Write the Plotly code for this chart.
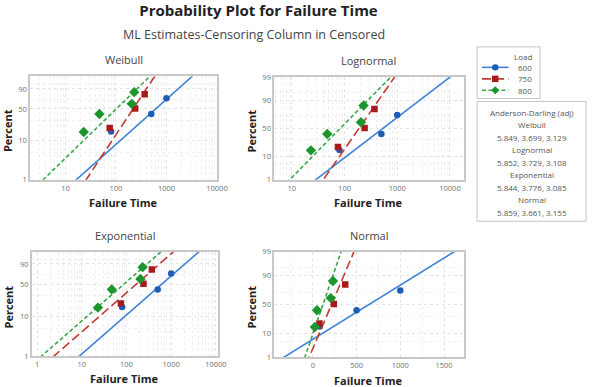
import numpy as np
import plotly.graph_objects as go
from statistics import NormalDist

# ---------------- data ----------------
loads = ["600", "750", "800"]
time_600 = [80, 500, 1000]
pct_600 = [16.5, 40, 73]
time_750 = [75, 240, 370]
pct_750 = [20, 51, 81]
time_800 = [23, 47, 205, 230]
pct_800 = [16, 40, 61, 85]

# ML fit parameters per load (600, 750, 800)
weibull_shape = [1.17, 1.98, 1.27]
weibull_scale = [835, 262, 135]
lognormal_loc = [6.279, 5.234, 4.412]
lognormal_scale = [1.261, 0.67, 0.95]
expo_mean = [885, 239, 126]
normal_mean = [643, 214, 116]
normal_sd = [418, 110, 89]

ad_labels = ["Weibull", "Lognormal", "Exponential", "Normal"]
ad_values = ["5.849, 3.699, 3.129", "5.852, 3.729, 3.108",
             "5.844, 3.776, 3.085", "5.859, 3.661, 3.155"]

pct_ticks_wb = [1, 10, 50, 90]
pct_ticks_n = [1, 10, 50, 90, 99]
pct_minor = [5, 30, 70, 95]
log_ticks_a = [10, 100, 1000, 10000]
log_ticks_b = [1, 10, 100, 1000, 10000]
lin_ticks = [0, 500, 1000, 1500]
lin_minor = [-250, 250, 750, 1250]

# ---------------- helpers ----------------
ND = NormalDist()
W, H = 601, 387
FONT = "Open Sans"


def wb(p):
    p = np.asarray(p, dtype=float) / 100.0
    return np.log(-np.log(1 - p))


def nz(p):
    return np.array([ND.inv_cdf(v / 100.0) for v in np.atleast_1d(p)])


def px_x(v):
    return v / W


def px_y(v):
    return 1 - v / H


times = [time_600, time_750, time_800]
pcts = [pct_600, pct_750, pct_800]
mk_colors = ["#1f5cb8", "#a61c1c", "#1b952c"]
ln_colors = ["#3f82d6", "#c23a32", "#3aa847"]
dashes = ["solid", "9px,4px", "4px,2.5px"]
symbols = ["circle", "square", "diamond"]
msizes = [6.5, 6.5, 8]

pgrid = np.linspace(0.01, 99.99, 400)

fig = go.Figure()

panels = ["Weibull", "Lognormal", "Exponential", "Normal"]
axis_ids = [("x", "y"), ("x2", "y2"), ("x3", "y3"), ("x4", "y4")]

for pi, pname in enumerate(panels):
    xa, ya = axis_ids[pi]
    for k in range(3):
        if pname == "Weibull":
            lx = weibull_scale[k] * (-np.log(1 - pgrid / 100)) ** (1 / weibull_shape[k])
            ly = wb(pgrid)
            py = wb(pcts[k])
        elif pname == "Lognormal":
            lx = np.exp(lognormal_loc[k] + lognormal_scale[k] * nz(pgrid))
            ly = nz(pgrid)
            py = nz(pcts[k])
        elif pname == "Exponential":
            lx = expo_mean[k] * (-np.log(1 - pgrid / 100))
            ly = wb(pgrid)
            py = wb(pcts[k])
        else:
            lx = normal_mean[k] + normal_sd[k] * nz(pgrid)
            ly = nz(pgrid)
            py = nz(pcts[k])
        fig.add_trace(go.Scatter(
            x=lx, y=ly, mode="lines", xaxis=xa, yaxis=ya,
            line=dict(color=ln_colors[k], width=1.6, dash=dashes[k]),
            showlegend=False, hoverinfo="skip"))
        fig.add_trace(go.Scatter(
            x=times[k], y=py, mode="markers", xaxis=xa, yaxis=ya,
            marker=dict(color=mk_colors[k], symbol=symbols[k], size=msizes[k],
                        line=dict(width=0)),
            name=loads[k], showlegend=False))

tickfont = dict(family=FONT, size=7.5, color="#707070")
common_axis = dict(showline=True, linecolor="#c8c8c8", linewidth=1.5, mirror=True,
                   zeroline=False, ticks="", tickfont=tickfont,
                   showgrid=True, gridcolor="#e4e4e4", griddash="3px,3px", gridwidth=1)


def minor(vals):
    return dict(tickvals=vals, showgrid=True, gridcolor="#efefef", griddash="3px,3px",
                gridwidth=1, ticks="")


# panel boxes in pixels: (x0, x1, ytop, ybottom)
boxes = {
    "Weibull": (30.7, 221.0, 73.3, 179.4),
    "Lognormal": (279.3, 472.3, 74.0, 179.4),
    "Exponential": (32.3, 221.7, 253.3, 360.3),
    "Normal": (279.3, 472.3, 253.3, 361.5),
}

log_minor_all = [m * 10 ** e for e in range(0, 4) for m in range(2, 10)]

layout_axes = {}
for pi, pname in enumerate(panels):
    x0, x1, yt, yb = boxes[pname]
    xd = [px_x(x0), px_x(x1)]
    yd = [px_y(yb), px_y(yt)]
    sfx = "" if pi == 0 else str(pi + 1)
    xa, ya = axis_ids[pi]
    if pname == "Weibull":
        xax = dict(type="log", range=[0.30, 4.0], tickvals=log_ticks_a,
                   ticktext=[str(v) for v in log_ticks_a], minor=minor(log_minor_all))
        yax = dict(range=[float(wb(1)), 1.58], tickvals=list(wb(pct_ticks_wb)),
                   ticktext=[str(v) for v in pct_ticks_wb], minor=minor(list(wb(pct_minor))))
    elif pname == "Lognormal":
        xax = dict(type="log", range=[0.665, 4.26], tickvals=log_ticks_a,
                   ticktext=[str(v) for v in log_ticks_a], minor=minor(log_minor_all))
        yax = dict(range=[float(nz(1)[0]), float(nz(99)[0])], tickvals=list(nz(pct_ticks_n)),
                   ticktext=[str(v) for v in pct_ticks_n], minor=minor(list(nz(pct_minor))))
    elif pname == "Exponential":
        xax = dict(type="log", range=[-0.12, 4.04], tickvals=log_ticks_b,
                   ticktext=[str(v) for v in log_ticks_b], minor=minor(log_minor_all))
        yax = dict(range=[float(wb(1)), 1.55], tickvals=list(wb(pct_ticks_wb)),
                   ticktext=[str(v) for v in pct_ticks_wb], minor=minor(list(wb(pct_minor))))
    else:
        xax = dict(range=[-442, 1724], tickvals=lin_ticks,
                   ticktext=[str(v) for v in lin_ticks], minor=minor(lin_minor))
        yax = dict(range=[float(nz(1)[0]), float(nz(99)[0])], tickvals=list(nz(pct_ticks_n)),
                   ticktext=[str(v) for v in pct_ticks_n], minor=minor(list(nz(pct_minor))))
    xax.update(common_axis)
    yax.update(common_axis)
    xax.update(domain=xd, anchor=ya)
    yax.update(domain=yd, anchor=xa)
    layout_axes["xaxis" + sfx] = xax
    layout_axes["yaxis" + sfx] = yax

fig.update_layout(**layout_axes)

annotations = []
shapes = []


def ann(text, x, y, size, color="#333", bold=False, angle=0, xanchor="center"):
    t = f"<b>{text}</b>" if bold else text
    annotations.append(dict(text=t, x=px_x(x), y=px_y(y), xref="paper", yref="paper",
                            showarrow=False, xanchor=xanchor, yanchor="middle",
                            textangle=angle,
                            font=dict(family=FONT, size=size, color=color)))


# subtitle
ann("ML Estimates-Censoring Column in Censored", 258.5, 30, 12.5, "#444")

# panel titles & axis titles
for pname in panels:
    x0, x1, yt, yb = boxes[pname]
    cx = (x0 + x1) / 2
    ann(pname, cx, yt - 17, 11, "#444")
    ann("Failure Time", cx, yb + 23.5, 11, "#222", bold=True)
    ann("Percent", x0 - 23.5, (yt + yb) / 2 + 3, 11, "#222", bold=True, angle=-90)

# legend (Load)
shapes.append(dict(type="rect", xref="paper", yref="paper",
                   x0=px_x(486), x1=px_x(550), y0=px_y(96), y1=px_y(43),
                   line=dict(color="#c4c4c4", width=1), fillcolor="white", layer="below"))
ann("Load", 544, 53, 8, "#555", xanchor="right")
leg_y = [64, 75.8, 87.5]
for k in range(3):
    shapes.append(dict(type="line", xref="paper", yref="paper",
                       x0=px_x(491), x1=px_x(518), y0=px_y(leg_y[k]), y1=px_y(leg_y[k]),
                       line=dict(color=ln_colors[k], width=1.6, dash=dashes[k])))
    cxm, cym, r = 504.5, leg_y[k], 3.3
    if symbols[k] == "circle":
        shapes.append(dict(type="circle", xref="paper", yref="paper",
                           x0=px_x(cxm - r), x1=px_x(cxm + r), y0=px_y(cym + r), y1=px_y(cym - r),
                           fillcolor=mk_colors[k], line=dict(width=0)))
    elif symbols[k] == "square":
        shapes.append(dict(type="rect", xref="paper", yref="paper",
                           x0=px_x(cxm - r), x1=px_x(cxm + r), y0=px_y(cym + r), y1=px_y(cym - r),
                           fillcolor=mk_colors[k], line=dict(width=0)))
    else:
        rr = 4.2
        path = (f"M {px_x(cxm)} {px_y(cym - rr)} L {px_x(cxm + rr)} {px_y(cym)} "
                f"L {px_x(cxm)} {px_y(cym + rr)} L {px_x(cxm - rr)} {px_y(cym)} Z")
        shapes.append(dict(type="path", xref="paper", yref="paper", path=path,
                           fillcolor=mk_colors[k], line=dict(width=0)))
    ann(loads[k], 544, leg_y[k], 8, "#555", xanchor="right")

# Anderson-Darling box
shapes.append(dict(type="rect", xref="paper", yref="paper",
                   x0=px_x(486), x1=px_x(597), y0=px_y(222), y1=px_y(99),
                   line=dict(color="#c4c4c4", width=1), fillcolor="white", layer="below"))
ad_lines = ["Anderson-Darling (adj)"]
for lab, val in zip(ad_labels, ad_values):
    ad_lines += [lab, val]
for i, line in enumerate(ad_lines):
    ann(line, 541.5, 110.3 + 12.8 * i, 8, "#555")

fig.update_layout(
    width=W, height=H,
    margin=dict(l=0, r=0, t=0, b=0),
    paper_bgcolor="white", plot_bgcolor="white",
    title=dict(text="<b>Probability Plot for Failure Time</b>", x=258.5 / W, xanchor="center",
               y=1 - 11 / H, yanchor="middle", yref="container",
               font=dict(family=FONT, size=15, color="#222")),
    annotations=annotations, shapes=shapes,
    showlegend=False,
)

fig.write_html("out.html")
